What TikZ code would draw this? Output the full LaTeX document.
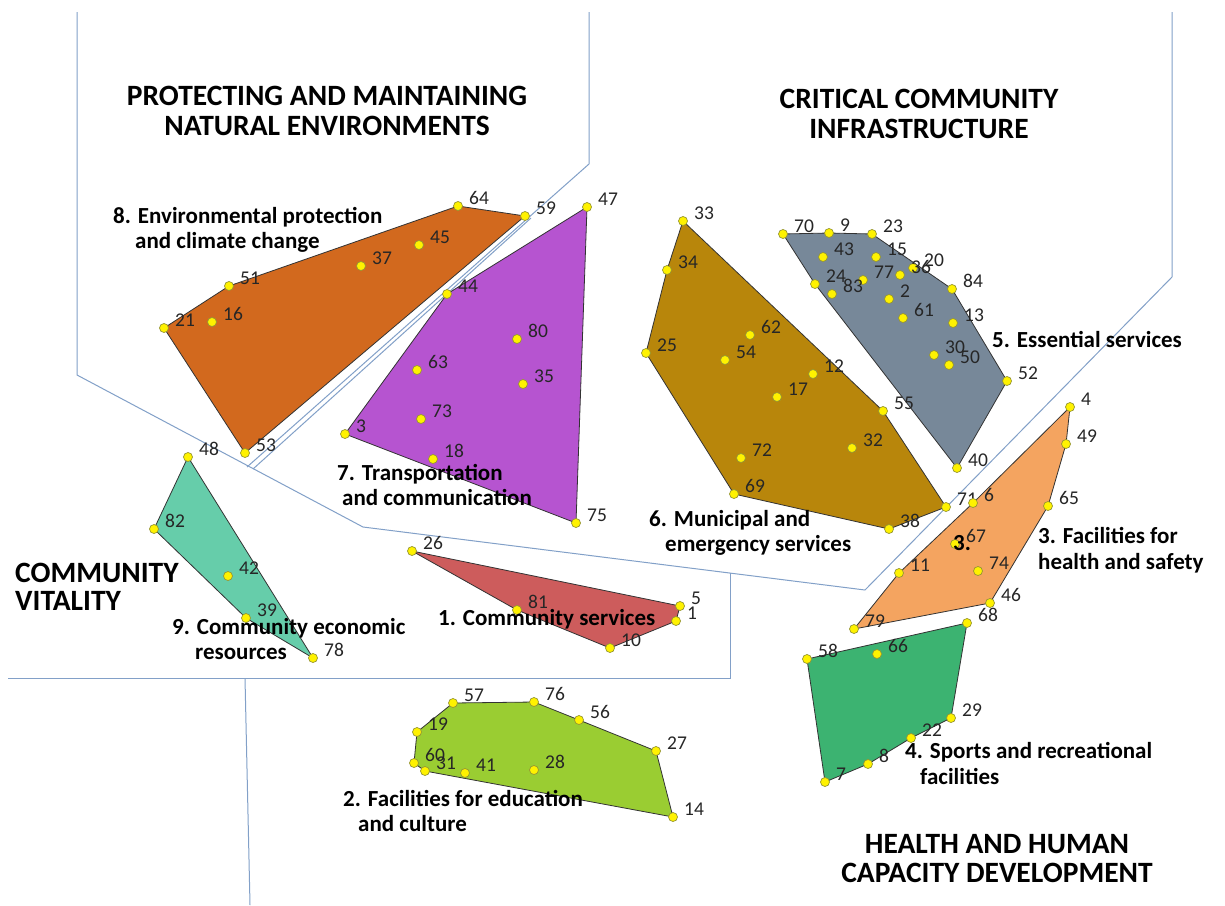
\documentclass[tikz,border=0pt]{standalone}
\usepackage{fontspec}
\setmainfont{Carlito}
\definecolor{orangeE}{RGB}{210,105,30}
\definecolor{purpleT}{RGB}{182,84,208}
\definecolor{brownM}{RGB}{184,134,11}
\definecolor{grayS}{RGB}{119,136,153}
\definecolor{sandyH}{RGB}{244,164,96}
\definecolor{greenR}{RGB}{60,179,113}
\definecolor{limeE}{RGB}{154,205,50}
\definecolor{redC}{RGB}{205,92,92}
\definecolor{tealC}{RGB}{102,205,170}
\definecolor{zoneblue}{RGB}{130,160,200}
\definecolor{dotedge}{RGB}{150,150,50}
\begin{document}
\begin{tikzpicture}[x=1pt,y=-1pt,
  dot/.style={circle,fill=yellow,draw=dotedge,line width=0.7pt,inner sep=0pt,minimum size=9pt},
  num/.style={font=\fontsize{19.5}{19.5}\selectfont,inner sep=0pt,anchor=base west,text=black!85},
  poly/.style={draw=black!80,line width=0.8pt},
  zone/.style={draw=zoneblue,line width=1pt},
  lab/.style={font=\bfseries\fontsize{23}{26}\selectfont,inner sep=0pt,anchor=base west},
  head/.style={font=\bfseries\fontsize{29.5}{30}\selectfont,inner sep=0pt,anchor=base},
  headl/.style={font=\bfseries\fontsize{29.5}{30}\selectfont,inner sep=0pt,anchor=base west}]
\useasboundingbox[fill=white] (0,0) rectangle (1225,905);

% zone boundaries
\coordinate (z1) at (77,12);
\coordinate (z2) at (77,375);
\coordinate (z3) at (363,527);
\coordinate (z4) at (865,590);
\coordinate (z5) at (1172,277);
\coordinate (z6) at (1172,12);
\coordinate (z7) at (589,12);
\coordinate (z8) at (589,164);
\coordinate (z9) at (247,467);
\coordinate (z10) at (531,218);
\coordinate (z11) at (253,469);
\coordinate (z12) at (730,573);
\coordinate (z13) at (730,678);
\coordinate (z14) at (8,678);
\coordinate (z15) at (245,678);
\coordinate (z16) at (250,905);
\draw[zone] (z1) -- (z2) -- (z3) -- (z4) -- (z5) -- (z6);
\draw[zone] (z7) -- (z8) -- (z9);
\draw[zone] (z10) -- (z11);
\draw[zone] (z12) -- (z13) -- (z14);
\draw[zone] (z15) -- (z16);

% points
\foreach \n/\x/\y in {
 64/458/206, 59/525/216, 45/419/245, 37/361/266, 51/229/286, 16/212/322, 21/164/328, 53/245/453,
 47/587/207, 44/447/294, 80/517/339, 63/417/370, 35/523/384, 73/421/419, 3/345/434, 18/433/459, 75/576/523,
 33/683/221, 34/667/270, 25/646/353, 62/750/335, 54/725/360, 12/813/374, 17/777/397, 55/883/411,
 32/852/448, 72/741/458, 69/734/494, 38/889/529, 71/946/507,
 70/783/234, 9/829/233, 23/872/234, 43/823/257, 15/876/257, 20/913/268, 36/900/275, 77/863/280,
 24/815/284, 83/832/294, 2/889/299, 84/952/289, 61/903/318, 13/953/323, 30/934/355, 50/949/365,
 52/1007/381, 40/957/468,
 4/1070/407, 49/1066/444, 65/1048/506, 6/973/503, 67/955/544, 11/899/573, 74/978/571, 46/990/603, 79/854/629,
 68/967/623, 58/807/659, 66/877/654, 29/951/718, 22/911/738, 8/868/764, 7/825/782,
 57/453/703, 76/534/702, 56/579/720, 27/656/751, 14/673/817, 19/417/732, 60/414/763, 31/425/771, 41/465/773, 28/534/770,
 26/412/551, 81/517/610, 5/680/606, 1/676/621, 10/610/648,
 48/188/457, 82/154/529, 42/228/576, 39/246/618, 78/313/658}
 {\coordinate (p\n) at (\x,\y);}

% polygons
\draw[poly,fill=orangeE] (p21) -- (p51) -- (p64) -- (p59) -- (p53) -- cycle;
\draw[poly,fill=purpleT] (p3) -- (p44) -- (p47) -- (p75) -- cycle;
\draw[poly,fill=brownM] (p33) -- (p55) -- (p71) -- (p38) -- (p69) -- (p25) -- (p34) -- cycle;
\draw[poly,fill=grayS] (p70) -- (p9) -- (p23) -- (p84) -- (p52) -- (p40) -- (p24) -- cycle;
\draw[poly,fill=sandyH] (p79) -- (p11) -- (p6) -- (p4) -- (p49) -- (p65) -- (p46) -- cycle;
\draw[poly,fill=greenR] (p58) -- (p68) -- (p29) -- (p22) -- (p8) -- (p7) -- cycle;
\draw[poly,fill=limeE] (p19) -- (p57) -- (p76) -- (p56) -- (p27) -- (p14) -- (p31) -- (p60) -- cycle;
\draw[poly,fill=redC] (p26) -- (p5) -- (p1) -- (p10) -- (p81) -- cycle;
\draw[poly,fill=tealC] (p48) -- (p78) -- (p39) -- (p82) -- cycle;

% dots and numbers
\foreach \n in {64,59,45,37,51,16,21,53,47,44,80,63,35,73,3,18,75,
 33,34,25,62,54,12,17,55,32,72,69,38,71,
 70,9,23,43,15,20,36,77,24,83,2,84,61,13,30,50,52,40,
 4,49,65,6,67,11,74,46,79,68,58,66,29,22,8,7,
 57,76,56,27,14,19,60,31,41,28,26,81,5,1,10,48,82,42,39,78}
 {\node[dot] (d\n) at (p\n) {};
  \node[num] (t\n) at ([xshift=11pt,yshift=2pt]p\n) {\n};}

% group labels
\node[lab] (l8a) at (113,223) {8. Environmental protection};
\node[lab] (l8b) at (135,248) {and climate change};
\node[lab] (l7a) at (337,480) {7. Transportation};
\node[lab] (l7b) at (342,505) {and communication};
\node[lab] (l6a) at (649,526) {6. Municipal and};
\node[lab] (l6b) at (665,551) {emergency services};
\node[lab] (l5) at (992,347) {5. Essential services};
\node[lab] (l3a) at (1038,543) {3. Facilities for};
\node[lab] (l3b) at (1038,569) {health and safety};
\node[lab] (l3c) at (953,550) {3.};
\node[lab] (l4a) at (905,758) {4. Sports and recreational};
\node[lab] (l4b) at (920,784) {facilities};
\node[lab] (l2a) at (343,806) {2. Facilities for education};
\node[lab] (l2b) at (358,831) {and culture};
\node[lab] (l1) at (438,625) {1. Community services};
\node[lab] (l9a) at (172,634) {9. Community economic};
\node[lab] (l9b) at (195,659) {resources};

% headings
\node[head] (h1a) at (327,105) {PROTECTING AND MAINTAINING};
\node[head] (h1b) at (327,135) {NATURAL ENVIRONMENTS};
\node[head] (h2a) at (919,108) {CRITICAL COMMUNITY};
\node[head] (h2b) at (919,138) {INFRASTRUCTURE};
\node[headl] (h3a) at (15,582) {COMMUNITY};
\node[headl] (h3b) at (15,610) {VITALITY};
\node[head] (h4a) at (997,853) {HEALTH AND HUMAN};
\node[head] (h4b) at (997,882) {CAPACITY DEVELOPMENT};
\end{tikzpicture}
\end{document}
